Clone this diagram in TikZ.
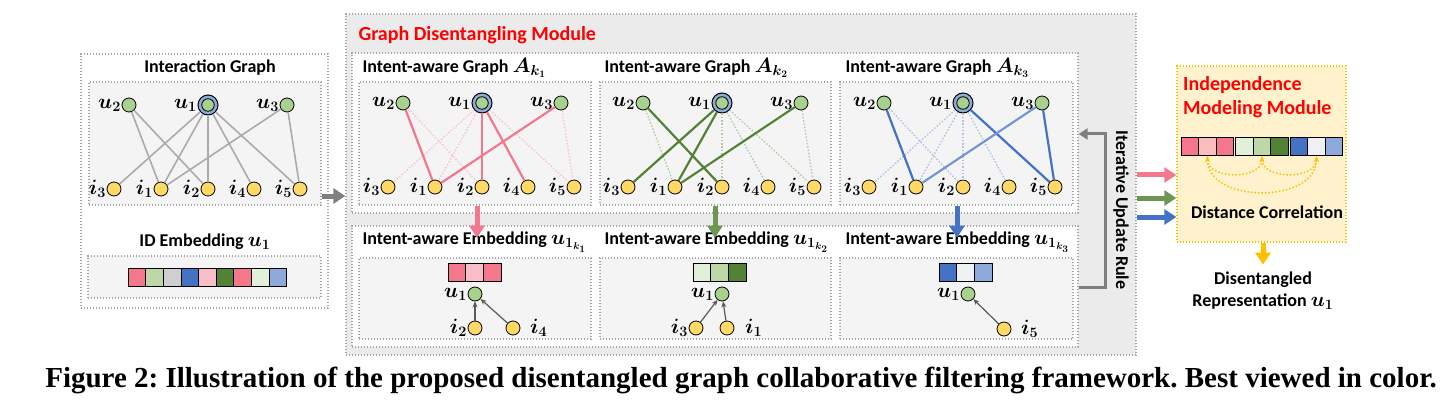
\documentclass[tikz,border=0pt]{standalone}
\usepackage{amsmath}
\usepackage{fontspec}
\setmainfont{Carlito}
\newfontfamily\capfont{Liberation Serif}
\usetikzlibrary{positioning, arrows.meta}

\definecolor{boxgray}{HTML}{A6A6A6}
\definecolor{panelgray}{HTML}{F4F4F4}
\definecolor{modgray}{HTML}{EBEBEB}
\definecolor{ugreen}{HTML}{A9D18E}
\definecolor{iyellow}{HTML}{FFD966}
\definecolor{ublue}{HTML}{8FAADC}
\definecolor{epink}{HTML}{F4778B}
\definecolor{egreen}{HTML}{548235}
\definecolor{eblue}{HTML}{4472C4}
\definecolor{lpink}{HTML}{F8BFCB}
\definecolor{salmon}{HTML}{F9BDBD}
\definecolor{lgreen}{HTML}{BDD7A7}
\definecolor{vlgreen}{HTML}{E2F0D9}
\definecolor{lblue}{HTML}{8EAADB}
\definecolor{vlblue}{HTML}{EEF0F3}
\definecolor{cgray}{HTML}{D0CECE}
\definecolor{egray}{HTML}{ABABAB}
\definecolor{agray}{HTML}{7F7F7F}
\definecolor{dgray}{HTML}{595959}
\definecolor{modred}{HTML}{FF0000}
\definecolor{yfill}{HTML}{FFF2CC}
\definecolor{orng}{HTML}{FFC000}

\newcommand{\mth}[1]{{\fontsize{21}{21}\selectfont$\boldsymbol{#1}$}}
\newcommand{\tmth}[1]{{\fontsize{20}{20}\selectfont$\boldsymbol{#1}$}}

\begin{document}
\begin{tikzpicture}[
x=1pt, y=-1pt,
font=\bfseries\fontsize{18}{21}\selectfont,
dotbox/.style={draw=boxgray, line width=1.3pt, dash pattern=on 1.4pt off 1.6pt,
  inner sep=0pt},
unode/.style={circle, draw, line width=0.8pt, fill=ugreen, minimum size=14pt,
  inner sep=0pt},
inode/.style={unode, fill=iyellow},
uone/.style={unode, fill=ublue, minimum size=20pt, line width=1pt},
lbl/.style={inner sep=0.5pt},
cell/.style={draw, line width=0.9pt, minimum width=17.6pt, minimum height=18pt,
  inner sep=0pt},
redtitle/.style={text=modred, font=\bfseries\fontsize{20}{24}\selectfont},
gedge/.style={egray, line width=1.6pt},
strong/.style={#1, line width=2.2pt},
faint/.style={#1!45, line width=1.3pt, dash pattern=on 1.5pt off 1.8pt},
blockarrow/.style={#1, line width=5pt, -{Triangle[length=12pt, width=15pt]}},
smallarrow/.style={dgray, line width=1.2pt, -{Stealth[length=6pt, width=5pt]}},
>=Stealth
]
\useasboundingbox (0,0) rectangle (1441,401);

\node[dotbox, fill=white, minimum width=247pt, minimum height=254pt] (leftpanel)
    at (204.5,181) {};
\node[dotbox, fill=panelgray, minimum width=232pt, minimum height=123pt] (igraph)
    at (205,143.5) {};
\node[dotbox, fill=panelgray, minimum width=233pt, minimum height=42pt] (idbox)
    at (204.5,277) {};
\node (igtitle) at (210,68) {Interaction Graph};
\node (idtitle) at (205,242) {ID Embedding \tmth{u_1}};

\node[dotbox, fill=modgray, minimum width=790pt, minimum height=341pt] (module)
    at (741,184.5) {};
\node[dotbox, fill=white, minimum width=726pt, minimum height=160pt] (graphrow)
    at (715,133) {};
\node[dotbox, fill=white, minimum width=726pt, minimum height=121pt] (embrow)
    at (715,286.5) {};
\node[anchor=west, redtitle] (modtitle) at (355,35) {Graph Disentangling Module};

\foreach \n/\x/\w in {1/475/232, 2/715.5/231, 3/956.5/233} {
  \node[dotbox, fill=panelgray, minimum width=\w pt, minimum height=123pt] (gbox\n)
      at (\x,143.5) {};
  \node[dotbox, fill=panelgray, minimum width=\w pt, minimum height=81pt] (ebox\n)
      at (\x,298.5) {};
}
\foreach \n/\x in {1/359, 2/601, 3/842} {
  \node[anchor=west] (gtitle\n) at (\x,68) {Intent-aware Graph \tmth{A_{k_\n}}};
  \node[anchor=west] (etitle\n) at (\x,242) {Intent-aware Embedding \tmth{u_{1_{k_\n}}}};
}

\foreach \g/\x/\y in {g0/114/105, g1/388/103, g2/628/103, g3/869/103} {
  \node[uone, label={[lbl]left:\mth{u_1}}] (\g-u1) at (\x+94,\y) {};
  \node[unode, minimum size=12.5pt] at (\g-u1) {};
  \node[unode, label={[lbl]left:\mth{u_2}}] (\g-u2) at (\x+15,\y) {};
  \node[unode, label={[lbl]left:\mth{u_3}}] (\g-u3) at (\x+173,\y) {};
  \foreach \i/\dx in {3/0, 1/47, 2/94, 4/140, 5/186}
    \node[inode, label={[lbl]left:\mth{i_\i}}] (\g-i\i) at (\x+\dx,\y+84) {};
}

\foreach \a/\b in {u2/i1, u2/i2, u1/i3, u1/i1, u1/i2, u1/i4, u1/i5, u3/i1, u3/i5}
  \draw[gedge] (g0-\a) -- (g0-\b);

\foreach \a/\b in {u2/i2, u1/i3, u1/i1, u1/i5, u3/i5}
  \draw[faint=epink] (g1-\a) -- (g1-\b);
\foreach \a/\b in {u2/i1, u1/i2, u1/i4, u3/i1}
  \draw[strong=epink] (g1-\a) -- (g1-\b);

\foreach \a/\b in {u2/i1, u1/i2, u1/i4, u1/i5, u3/i5}
  \draw[faint=egreen] (g2-\a) -- (g2-\b);
\foreach \a/\b in {u2/i2, u1/i3, u1/i1, u3/i1}
  \draw[strong=egreen] (g2-\a) -- (g2-\b);

\foreach \a/\b in {u2/i2, u1/i3, u1/i1, u1/i2, u1/i4}
  \draw[faint=eblue] (g3-\a) -- (g3-\b);
\foreach \a/\b in {u2/i1, u1/i5, u3/i5}
  \draw[strong=eblue] (g3-\a) -- (g3-\b);
\draw[strong=eblue!75] (g3-u3) -- (g3-i1);

\foreach \c [count=\n from 0] in {epink, lgreen, cgray, eblue, lpink, egreen, epink, vlgreen, lblue}
  \node[cell, fill=\c] (id\n) at (137+\n*17.6,277) {};

\foreach \c [count=\n from 0] in {epink, lpink, epink}
  \node[cell, fill=\c] (ea\n) at (457+\n*17.6,272.5) {};
\foreach \c [count=\n from 0] in {vlgreen, lgreen, egreen}
  \node[cell, fill=\c] (eb\n) at (702+\n*17.6,272.5) {};
\foreach \c [count=\n from 0] in {eblue, vlblue, lblue}
  \node[cell, fill=\c] (ec\n) at (948+\n*17.6,272.5) {};

\node[unode, label={[lbl]left:\mth{u_1}}] (ea-u1) at (475,294) {};
\node[inode, label={[lbl]left:\mth{i_2}}] (ea-i2) at (475,328) {};
\node[inode, label={[lbl, label distance=9pt]right:\mth{i_4}}] (ea-i4)
    at (513,328) {};
\draw[smallarrow] (ea-i2) -- (ea-u1);
\draw[smallarrow] (ea-i4) -- (ea-u1);

\node[unode, label={[lbl]left:\mth{u_1}}] (eb-u1) at (722,294) {};
\node[inode, label={[lbl]left:\mth{i_3}}] (eb-i3) at (696,328) {};
\node[inode, label={[lbl, label distance=10pt]right:\mth{i_1}}] (eb-i1)
    at (727,328) {};
\draw[smallarrow] (eb-i3) -- (eb-u1);
\draw[smallarrow] (eb-i1) -- (eb-u1);

\node[unode, label={[lbl]left:\mth{u_1}}] (ec-u1) at (968,294) {};
\node[inode, label={[lbl, label distance=9pt]right:\mth{i_5}}] (ec-i5)
    at (1004,329) {};
\draw[smallarrow] (ec-i5) -- (ec-u1);

\draw[blockarrow=epink] (gbox1.south -| 477,0) -- ++(0,32);
\draw[blockarrow=egreen!85] (gbox2.south -| 715,0) -- ++(0,32);
\draw[blockarrow=eblue] (gbox3.south -| 957,0) -- ++(0,32);

\draw[blockarrow=agray] (igraph.east |- 0,196) -- (module.west |- 0,196);

\draw[agray, line width=3pt, -{Triangle[length=9pt, width=11pt]}]
    (embrow.east |- 0,287) -- ++(27,0) |- (graphrow.east |- 0,134);
\node[rotate=-90] (iur) at (1121,210) {Iterative Update Rule};

\node[draw=orng, fill=yfill, line width=1.4pt, dash pattern=on 1.4pt off 1.6pt,
  minimum width=169pt, minimum height=176pt] (indep) at (1261.5,154) {};
\node[anchor=north west, align=left, redtitle, inner sep=0pt] (indtitle)
    at (1183,76) {Independence\\Modeling Module};

\foreach \c [count=\n from 0] in {epink, salmon, epink}
  \node[cell, fill=\c] (ic\n) at (1190+\n*17.5,146.5) {};
\foreach \c [count=\n from 3] in {vlgreen, lgreen, egreen}
  \node[cell, fill=\c] (ic\n) at (1192+\n*17.5,146.5) {};
\foreach \c [count=\n from 6] in {eblue, vlblue, lblue}
  \node[cell, fill=\c] (ic\n) at (1194+\n*17.5,146.5) {};

\draw[orng, line width=1.5pt, dotted, {Stealth[length=6pt]}-{Stealth[length=6pt]}]
    (ic1.south) .. controls +(0,24) and +(0,24) .. (ic4.south);
\draw[orng, line width=1.5pt, dotted, {Stealth[length=6pt]}-{Stealth[length=6pt]}]
    (ic4.south) .. controls +(0,24) and +(0,24) .. (ic7.south);
\draw[orng, line width=1.5pt, dotted, {Stealth[length=6pt]}-{Stealth[length=6pt]}]
    (ic1.south) .. controls +(0,48) and +(0,48) .. (ic7.south);
\node (dcor) at (1267,212) {Distance Correlation};

\draw[blockarrow=orng] (indep.south -| 1263,0) -- ++(0,22);
\node[align=center, font=\bfseries\fontsize{18}{22}\selectfont] (disrep) at (1263,291)
    {Disentangled\\Representation \tmth{u_1}};

\draw[blockarrow=epink] (module.east |- 0,175) -- (indep.west |- 0,175);
\draw[blockarrow=egreen!85] (module.east |- 0,198) -- (indep.west |- 0,198);
\draw[blockarrow=eblue] (module.east |- 0,217) -- (indep.west |- 0,217);

\node[font=\capfont\bfseries\fontsize{29}{32}\selectfont\frenchspacing] (caption)
    at (741,380)
    {Figure 2: Illustration of the proposed disentangled graph collaborative filtering framework. Best viewed in color.};
\end{tikzpicture}
\end{document}
